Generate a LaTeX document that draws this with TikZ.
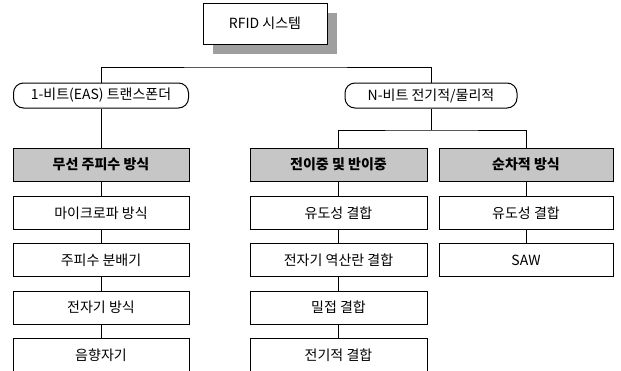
\documentclass[tikz,border=0pt]{standalone}
\usepackage{fontspec}
\setmainfont{Noto Sans CJK KR}
\usetikzlibrary{shadows}

\tikzset{
  every box/.style={draw, line width=1pt, inner sep=0pt, minimum width=176pt,
    minimum height=33pt, fill=white, font=\fontsize{14}{16}\selectfont},
  kind box/.style={every box, rounded corners=10pt, minimum height=25pt},
  method box/.style={every box, fill=gray!45, font=\fontsize{14}{16}\selectfont\bfseries},
  link/.style={line width=1pt}
}

\begin{document}
\begin{tikzpicture}[x=1pt, y=-1pt]
        \useasboundingbox (0,0) rectangle (621,370);

        \node [every box, minimum width=124pt, minimum height=41pt,
          drop shadow={shadow xshift=10pt, shadow yshift=-10pt, fill=gray!75, opacity=1}]
          (rfid) at (265,23.5) {RFID 시스템};

        \node [kind box, minimum width=175pt] (onebit) at (101,95.5) {1-비트(EAS) 트랜스폰더};
        \node [kind box, minimum width=172pt] (nbit) at (431,95.5) {N-비트 전기적/물리적};

        \node [method box] (wireless) at (101,164.5) {무선 주피수 방식};
        \node [method box, minimum width=177pt] (fullhalf) at (338.5,164.5) {전이중 및 반이중};
        \node [method box, minimum width=174pt] (sequential) at (526,164.5) {순차적 방식};

        \foreach \t [count=\y] in {마이크로파 방식, 주피수 분배기, 전자기 방식, 음향자기}
          \node [every box, anchor=north] (left-\y) at (101,196+47.3*\y-47.3) {\t};

        \foreach \t [count=\y] in {유도성 결합, 전자기 역산란 결합, 밀접 결합, 전기적 결합}
          \node [every box, anchor=north, minimum width=177pt] (mid-\y) at (338.5,196+47.3*\y-47.3) {\t};

        \foreach \t [count=\y] in {유도성 결합, SAW}
          \node [every box, anchor=north, minimum width=174pt] (right-\y) at (526,196+47.3*\y-47.3) {\t};

        \coordinate (bus) at (265,67);
        \coordinate (split) at (431,130);

        \draw [link] (onebit.north) |- (bus) -| (nbit.north);
        \draw [link] (onebit) -- (wireless);
        \draw [link] (nbit) -- (split);
        \draw [link] (fullhalf.north) |- (split) -| (sequential.north);

        \draw [link] (wireless) -- (left-1);
        \draw [link] (fullhalf) -- (mid-1);
        \draw [link] (sequential) -- (right-1);
        \foreach \i [evaluate=\i as \j using int(\i+1)] in {1,2,3}
          \draw [link] (left-\i) -- (left-\j) (mid-\i) -- (mid-\j);
        \draw [link] (right-1) -- (right-2);

\end{tikzpicture}
\end{document}
